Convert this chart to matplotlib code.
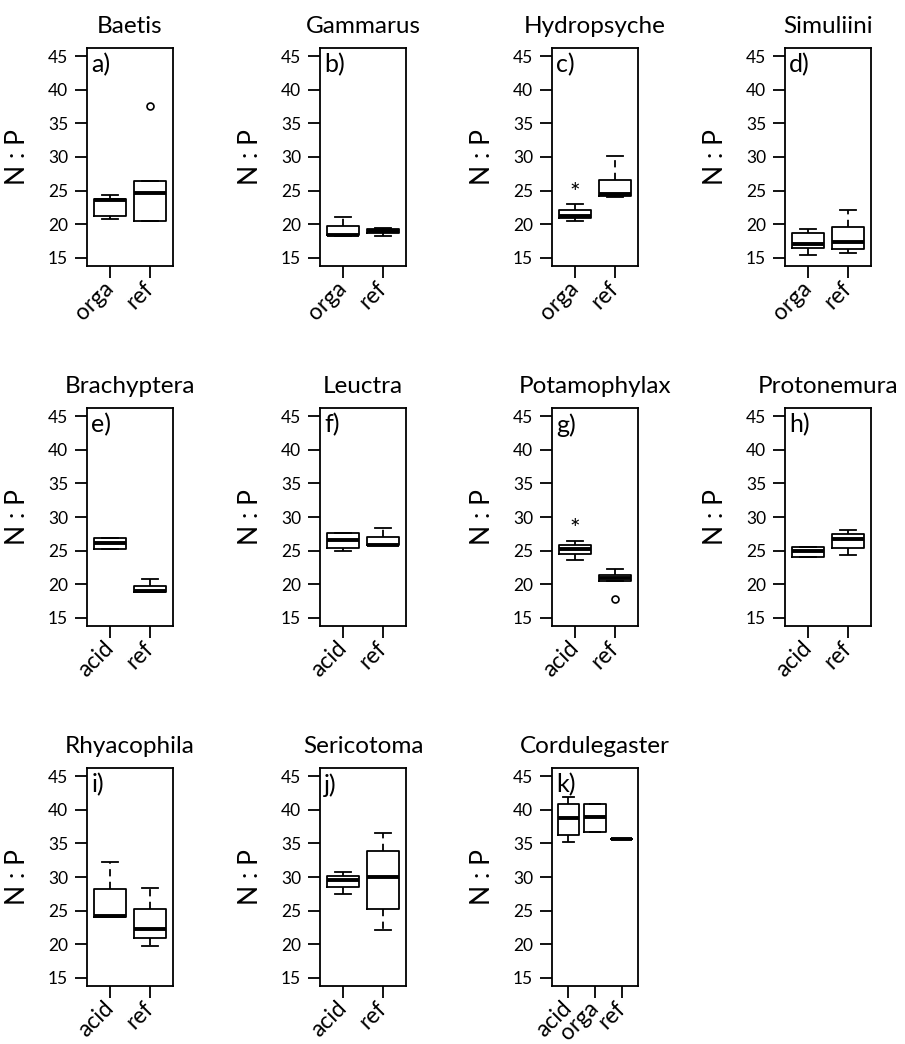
import matplotlib
matplotlib.use('Agg')
import matplotlib.pyplot as plt

plt.rcParams['font.family'] = ['Lato', 'DejaVu Sans']

species = ["Baetis", "Gammarus", "Hydropsyche", "Simuliini",
           "Brachyptera", "Leuctra", "Potamophylax", "Protonemura",
           "Rhyacophila", "Sericotoma", "Cordulegaster"]
panel_letters = ["a)", "b)", "c)", "d)", "e)", "f)", "g)", "h)", "i)", "j)", "k)"]
groups = [["orga", "ref"]] * 4 + [["acid", "ref"]] * 6 + [["acid", "orga", "ref"]]

whisk_lo = [[20.8, 20.45], [18.3, 18.3], [20.55, 24.0], [15.5, 15.7],
            [25.2, 18.8], [24.9, 25.8], [23.6, 20.5], [24.1, 24.3],
            [24.0, 19.8], [27.4, 22.1], [35.2, 36.7, 35.65]]
q1 = [[21.25, 20.45], [18.4, 18.7], [21.0, 24.2], [16.5, 16.35],
      [25.2, 18.8], [25.4, 25.8], [24.5, 20.5], [24.1, 25.4],
      [24.0, 21.0], [28.5, 25.25], [36.3, 36.7, 35.65]]
median = [[23.6, 24.6], [18.4, 19.05], [21.2, 24.5], [17.1, 17.3],
          [26.2, 18.97], [26.6, 25.9], [25.3, 21.0], [24.9, 26.7],
          [24.25, 22.2], [29.6, 30.0], [38.7, 38.9, 35.65]]
q3 = [[23.8, 26.5], [19.8, 19.3], [22.15, 26.6], [18.7, 19.55],
      [26.9, 19.8], [27.65, 27.1], [25.9, 21.4], [25.6, 27.4],
      [28.2, 25.25], [30.1, 33.9], [40.9, 40.8, 35.65]]
whisk_hi = [[24.4, 26.5], [21.05, 19.4], [23.0, 30.1], [19.3, 22.15],
            [26.9, 20.8], [27.65, 28.4], [26.5, 22.3], [25.6, 28.0],
            [32.2, 28.4], [30.7, 36.5], [41.9, 40.8, 35.65]]
outliers = [[[], [37.65]], [[], []], [[], []], [[], []],
            [[], []], [[], []], [[], [17.8]], [[], []],
            [[], []], [[], []], [[], [], []]]
asterisk_group = [None, None, 0, None, None, None, 0, None, None, None, None]
asterisk_value = [None, None, 24.6, None, None, None, 28.1, None, None, None, None]

yticks = [15, 20, 25, 30, 35, 40, 45]
ylabel = "N : P"

W, H = 905, 1044
fig = plt.figure(figsize=(W / 100, H / 100), dpi=100)

col_left = [87, 320, 552, 785]
row_top = [48, 408, 768]
ax_w, ax_h = 86, 218

for i, sp in enumerate(species):
    r, c = divmod(i, 4)
    left = col_left[c]
    top = row_top[r]
    ax = fig.add_axes([left / W, 1 - (top + ax_h) / H, ax_w / W, ax_h / H])
    n = len(groups[i])
    stats = []
    for j in range(n):
        stats.append(dict(med=median[i][j], q1=q1[i][j], q3=q3[i][j],
                          whislo=whisk_lo[i][j], whishi=whisk_hi[i][j],
                          fliers=outliers[i][j]))
    pos = list(range(1, n + 1))
    ax.bxp(stats, positions=pos, widths=0.8, capwidths=0.4,
           boxprops=dict(color='black', linewidth=1.3),
           medianprops=dict(color='black', linewidth=2.8, solid_capstyle='butt'),
           whiskerprops=dict(color='black', linewidth=1.3, linestyle=(0, (4, 3))),
           capprops=dict(color='black', linewidth=1.3),
           flierprops=dict(marker='o', markerfacecolor='none', markeredgecolor='black',
                           markersize=5, markeredgewidth=1.2))
    ext = 0.04 * n
    ax.set_xlim(0.5 - ext, n + 0.5 + ext)
    ax.set_ylim(15 - 0.04 * 30, 45 + 0.04 * 30)
    ax.set_yticks(yticks)
    ax.set_yticklabels([str(t) for t in yticks], fontsize=12.5)
    ax.set_xticks(pos)
    ax.set_xticklabels(groups[i], rotation=45, ha='right', va='center',
                       rotation_mode='anchor', fontsize=16.5)
    ax.tick_params(axis='both', direction='out', length=8.6, width=1.3, color='black')
    ax.tick_params(axis='x', pad=5)
    ax.tick_params(axis='y', pad=5)
    for s in ax.spines.values():
        s.set_linewidth(1.3)
    ax.set_title(sp, fontsize=17.5, pad=11)
    ax.text(0.05, 0.975, panel_letters[i], transform=ax.transAxes,
            ha='left', va='top', fontsize=18)
    ax.set_ylabel(ylabel, fontsize=19)
    ax.yaxis.set_label_coords(-0.66, 0.5)
    if asterisk_group[i] is not None:
        ax.text(pos[asterisk_group[i]], asterisk_value[i], "*", ha='center',
                va='center', fontsize=18)

fig.savefig("out.png", dpi=100)
